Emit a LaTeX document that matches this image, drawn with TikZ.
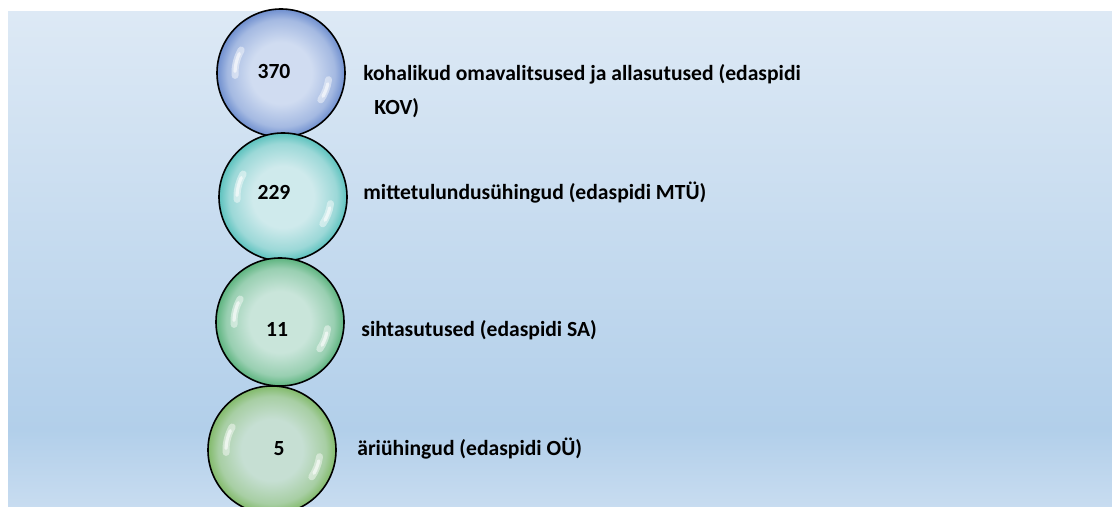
\documentclass[tikz,border=0pt]{standalone}
\usepackage{fontspec}
\setmainfont{Carlito}

\definecolor{bgtop}{HTML}{DDE9F5}
\definecolor{bgmid}{HTML}{B2CFEA}
\definecolor{bgbot}{HTML}{C8DCF0}
\definecolor{kovin}{HTML}{D0DCF1}
\definecolor{kovout}{HTML}{6F8FCF}
\definecolor{mtuin}{HTML}{CFEAEC}
\definecolor{mtuout}{HTML}{5CC2BE}
\definecolor{sain}{HTML}{C9E5DA}
\definecolor{saout}{HTML}{5DB47F}
\definecolor{ouin}{HTML}{C6DFD3}
\definecolor{ouout}{HTML}{82BA6A}

\newcommand{\bubbleshade}[3]{%
  \pgfdeclareradialshading{#1}{\pgfpoint{0bp}{0bp}}{color(0bp)=(#2); color(12bp)=(#2); color(21bp)=(#3!45!#2); color(25bp)=(#3); color(50bp)=(#3)}}
\bubbleshade{kovshade}{kovin}{kovout}
\bubbleshade{mtushade}{mtuin}{mtuout}
\bubbleshade{sashade}{sain}{saout}
\bubbleshade{oushade}{ouin}{ouout}

\begin{document}
\begin{tikzpicture}[
                x=0.5pt, y=0.5pt,
                bubble/.style={circle, draw=black, line width=0.8pt, minimum size=64pt, inner sep=0pt, shade},
                gloss/.style={white, opacity=.45, line width=3.5pt, line cap=round},
                glosscore/.style={white, opacity=.6, line width=1.6pt, line cap=round},
                num/.style={anchor=base, inner sep=0pt, font=\bfseries\fontsize{10.8}{13}\selectfont},
                lbl/.style={anchor=base west, inner sep=0pt, font=\bfseries\fontsize{10.8}{13}\selectfont},
            ]
                \useasboundingbox (0, 0) rectangle (1112, -507);
                \clip (0, 0) rectangle (1112, -507);
                % background
                \shade[top color=bgtop, bottom color=bgmid] (8, -12) rectangle (1112, -430);
                \shade[top color=bgmid, bottom color=bgbot] (8, -430) rectangle (1112, -507.5);
                % bubbles
                \node[bubble, shading=kovshade] (kov) at (281, -73) {};
                \node[bubble, shading=mtushade] (mtu) at (283, -197) {};
                \node[bubble, shading=sashade] (sa) at (280, -322) {};
                \node[bubble, shading=oushade] (ou) at (272, -450) {};
                \foreach \b in {kov, mtu, sa, ou} {
                    \draw[gloss] ([shift={(150:46)}]\b.center) arc[start angle=150, end angle=183, radius=46];
                    \draw[glosscore] ([shift={(155:46)}]\b.center) arc[start angle=155, end angle=178, radius=46];
                    \draw[gloss] ([shift={(-34:48)}]\b.center) arc[start angle=-34, end angle=-8, radius=48];
                    \draw[glosscore] ([shift={(-29:48)}]\b.center) arc[start angle=-29, end angle=-13, radius=48];
                }
                % numbers
                \node[num] (kovnum) at (274, -79) {370};
                \node[num] (mtunum) at (274, -200) {229};
                \node[num] (sanum) at (277, -336) {11};
                \node[num] (ounum) at (279, -455) {5};
                % texts
                \node[lbl] (kovtxt) at (363, -81) {kohalikud omavalitsused ja allasutused (edaspidi};
                \node[lbl] (kovtxtb) at (374, -115) {KOV)};
                \node[lbl] (mtutxt) at (363, -200) {mittetulundusühingud (edaspidi MTÜ)};
                \node[lbl] (satxt) at (361, -336) {sihtasutused (edaspidi SA)};
                \node[lbl] (outxt) at (357, -455) {äriühingud (edaspidi OÜ)};

            \end{tikzpicture}
\end{document}
